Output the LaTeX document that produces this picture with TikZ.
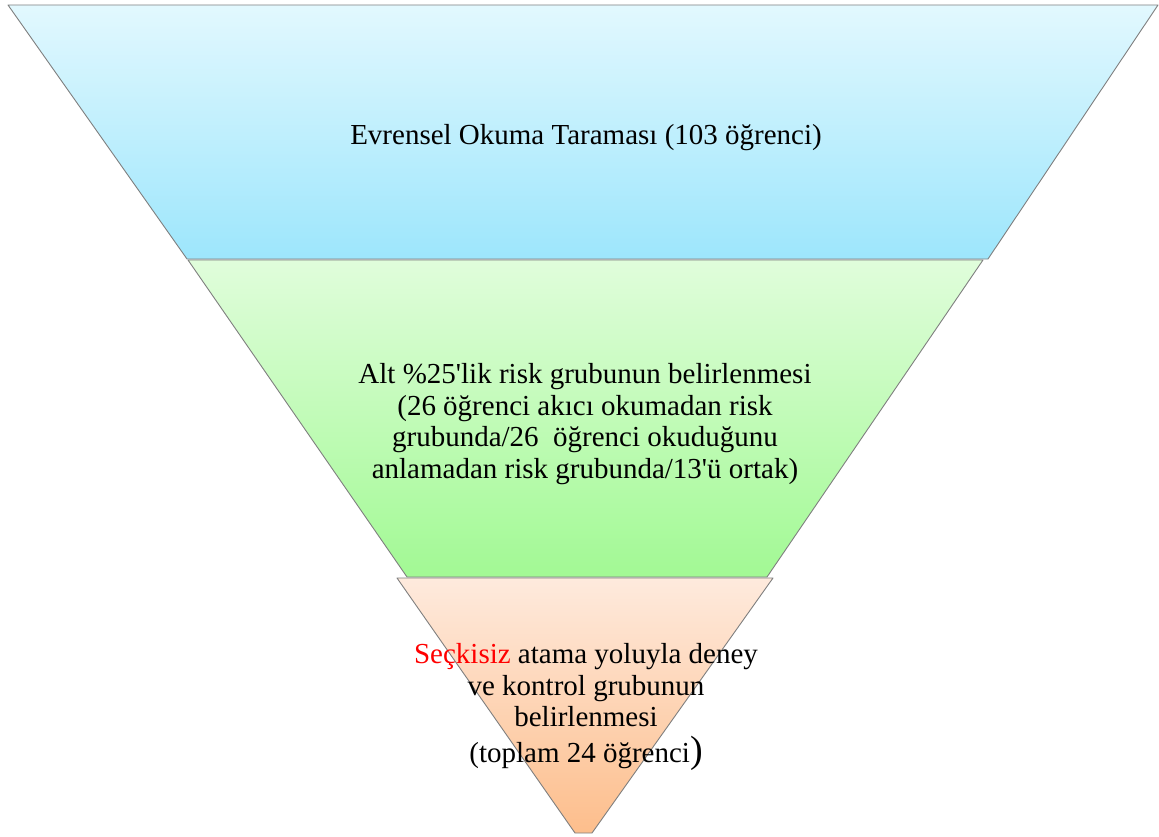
\documentclass[tikz,border=0pt]{standalone}
\usepackage{fontspec}
\setmainfont{Liberation Serif}
\usepackage{tikz}
\usetikzlibrary{positioning}

\definecolor{bandline}{HTML}{7F7F7F}
\definecolor{bluetop}{HTML}{E2F8FE}
\definecolor{bluebot}{HTML}{9DE6FC}
\definecolor{greentop}{HTML}{E0FDDB}
\definecolor{greenbot}{HTML}{A2F994}
\definecolor{orangetop}{HTML}{FEEADD}
\definecolor{orangebot}{HTML}{FDBE8C}

\begin{document}
\begin{tikzpicture}[x=1pt, y=-1pt,
    bandshape/.style={draw=bandline, line width=0.9pt, line join=round},
    topband/.style={bandshape, top color=bluetop, bottom color=bluebot},
    midband/.style={bandshape, top color=greentop, bottom color=greenbot},
    lowband/.style={bandshape, top color=orangetop, bottom color=orangebot},
    labelnode/.style={align=center, inner sep=0pt, font=\fontsize{29}{31.5}\selectfont}]

        \useasboundingbox (0,0) rectangle (1159,837);

        \path[topband] (8,5) -- (1158,5) -- (988,259) -- (187,259) -- cycle;
        \path[midband] (188,260) -- (983,260) -- (767,577) -- (407,577) -- cycle;
        \path[lowband] (397,578) -- (773,578) -- (592,833) -- (575,833) -- cycle;

        \node[labelnode, anchor=base] (screen) at (586,145) {Evrensel Okuma Taraması (103 öğrenci)};
        \node[labelnode] (risk) at (585,424) {Alt \%25\textquotesingle lik risk grubunun belirlenmesi\\
            (26 öğrenci akıcı okumadan risk\\
            grubunda/26~ öğrenci okuduğunu\\
            anlamadan risk grubunda/13\textquotesingle ü ortak)};
        \node[labelnode] (assign) at (586,707) {\textcolor{red}{Seçkisiz} atama yoluyla deney\\
            ve kontrol grubunun\\
            belirlenmesi\\[4pt]
            (toplam 24 öğrenci{\fontsize{38}{31}\selectfont)}};

\end{tikzpicture}
\end{document}
